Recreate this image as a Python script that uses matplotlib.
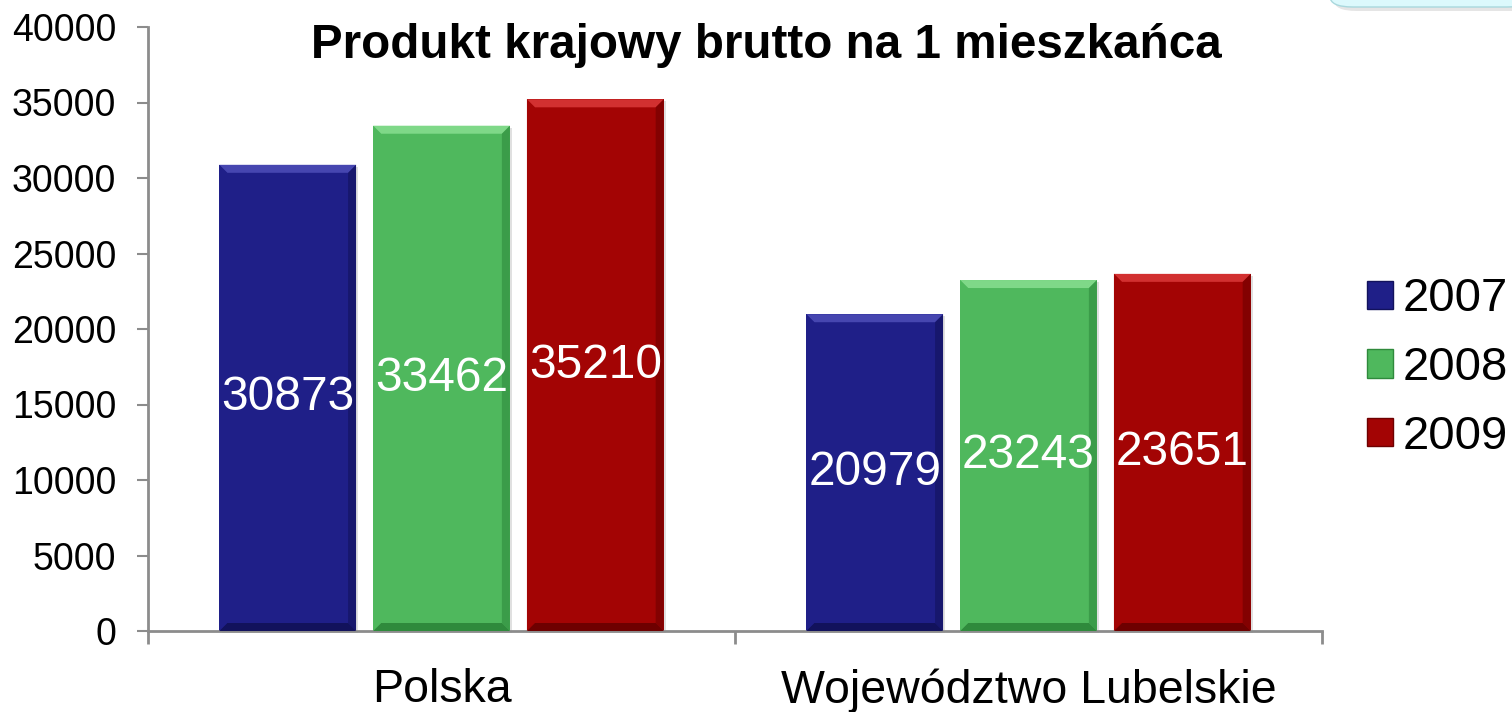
import matplotlib
matplotlib.use("Agg")
import matplotlib.pyplot as plt
from matplotlib.patches import Rectangle, Polygon, FancyBboxPatch
import numpy as np

plt.rcParams['font.family'] = ['Liberation Sans', 'DejaVu Sans']

categories = ["Polska", "Województwo Lubelskie"]
years = ["2007", "2008", "2009"]
values = {
    "2007": [30873, 20979],
    "2008": [33462, 23243],
    "2009": [35210, 23651],
}
title = "Produkt krajowy brutto na 1 mieszkańca"
yticks = [0, 5000, 10000, 15000, 20000, 25000, 30000, 35000, 40000]

colors = {"2007": "#1f1f88", "2008": "#4fb85d", "2009": "#a30404"}
light = {"2007": "#4646b0", "2008": "#7fd888", "2009": "#d23030"}
dark = {"2007": "#12125c", "2008": "#2f8a3c", "2009": "#6e0000"}

W, H = 1512, 712
fig = plt.figure(figsize=(W / 100, H / 100), dpi=100)
ax = fig.add_axes([148 / W, 1 - 631 / H, (1322 - 148) / W, (631 - 27) / H])

x = np.arange(len(categories))
bw = 0.233
step = 0.262
ax.set_xlim(-0.5, 1.5)
ax.set_ylim(0, 40000)

# bevel sizes in data units
bx = 8 / 587.0
by = 8 * 40000 / 604.0
sx = 6 / 587.0
sy = 6 * 40000 / 604.0

for i, yr in enumerate(years):
    offs = (i - 1) * step
    for j, v in enumerate(values[yr]):
        x0 = x[j] + offs - bw / 2
        x1 = x0 + bw
        # shadow
        ax.add_patch(Rectangle((x0 + sx * 0.4, -sy * 0.3), bw, v, facecolor="#000000",
                               alpha=0.12, edgecolor="none", zorder=1, clip_on=False))
        ax.add_patch(Rectangle((x0, 0), bw, v, facecolor=colors[yr], edgecolor="none", zorder=2))
        # top bevel
        ax.add_patch(Polygon([(x0, v), (x1, v), (x1 - bx, v - by), (x0 + bx, v - by)],
                             closed=True, facecolor=light[yr], edgecolor="none", zorder=3))
        # bottom bevel
        ax.add_patch(Polygon([(x0, 0), (x1, 0), (x1 - bx, by), (x0 + bx, by)],
                             closed=True, facecolor=dark[yr], edgecolor="none", zorder=3))
        # side bevels
        ax.add_patch(Polygon([(x0, 0), (x0, v), (x0 + bx, v - by), (x0 + bx, by)],
                             closed=True, facecolor=colors[yr], edgecolor="none", zorder=3, alpha=0.6))
        ax.add_patch(Polygon([(x1, 0), (x1, v), (x1 - bx, v - by), (x1 - bx, by)],
                             closed=True, facecolor=dark[yr], edgecolor="none", zorder=3, alpha=0.6))
        ax.text(x[j] + offs, v / 2, str(v), ha="center",
                va="center", color="white", fontsize=34.5, zorder=5)

ax.set_yticks(yticks)
ax.set_yticklabels([str(t) for t in yticks], fontsize=27)
ax.tick_params(axis="y", direction="out", length=8, width=1.5, color="#8c8c8c", pad=15)

ax.set_xticks([-0.5, 0.5, 1.5])
ax.set_xticklabels(["", "", ""])
ax.tick_params(axis="x", which="major", direction="out", length=9, width=2, color="#8c8c8c")
ax.set_xticks(x, minor=True)
ax.set_xticklabels(categories, minor=True, fontsize=33.5)
ax.tick_params(axis="x", which="minor", length=0, pad=27)

for s in ["top", "right"]:
    ax.spines[s].set_visible(False)
for s in ["left", "bottom"]:
    ax.spines[s].set_color("#8c8c8c")
    ax.spines[s].set_linewidth(2)

fig.text(766 / W, 1 - 46 / H, title, ha="center", va="center", fontsize=34.3, fontweight="bold")

# legend
handles = [Rectangle((0, 0), 1, 1, facecolor=colors[yr], edgecolor=dark[yr]) for yr in years]
leg = fig.legend(handles, years, loc="center left", bbox_to_anchor=(1367 / W, 1 - 368 / H),
                 frameon=False, fontsize=34, handlelength=0.55, handleheight=0.55,
                 handletextpad=0.2, labelspacing=0.52, borderpad=0, borderaxespad=0)

# partial rounded box at top right
fig.patches.append(FancyBboxPatch((1334 / W, 1 - 11 / H), 200 / W, 0.1,
                                  boxstyle="round,pad=0,rounding_size=0.015",
                                  transform=fig.transFigure, facecolor="#000000", alpha=0.10,
                                  edgecolor="none"))
fig.patches.append(FancyBboxPatch((1330 / W, 1 - 7 / H), 200 / W, 0.1,
                                  boxstyle="round,pad=0,rounding_size=0.015",
                                  transform=fig.transFigure, facecolor="#dcf9fc",
                                  edgecolor="#a9d8dd", linewidth=1))

fig.savefig("out.png", dpi=100)
